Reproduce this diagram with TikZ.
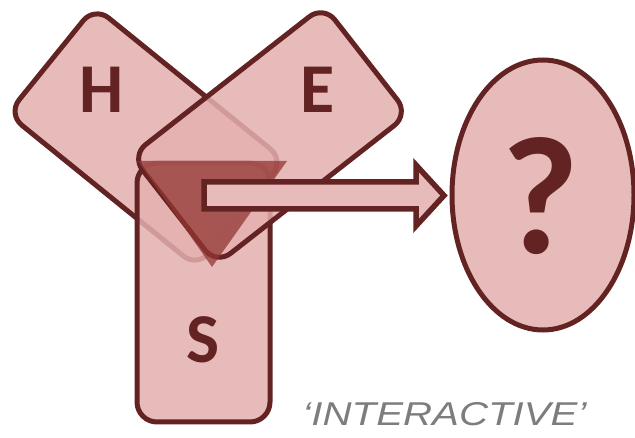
\documentclass[tikz,border=0pt]{standalone}
\usepackage{fontspec}
\setmainfont{Carlito}
\newfontfamily\tagfont{Liberation Sans}
\usetikzlibrary{shapes.geometric}

\begin{document}
\begin{tikzpicture}[x=1pt, y=-1pt,
		box/.style={draw=edgecolor, fill=boxcolor, fill opacity=0.85, line width=5pt, rounded corners=18pt,
			minimum width=244pt, minimum height=138pt, inner sep=0pt},
		letter/.style={text=edgecolor, inner sep=0pt, font=\fontsize{70}{70}\selectfont\bfseries}]
			\definecolor{edgecolor}{RGB}{100, 35, 35}
			\definecolor{boxcolor}{RGB}{228, 175, 175}
			\definecolor{solidcolor}{RGB}{232, 187, 187}
			\definecolor{tricolor}{RGB}{147, 55, 51}
			\definecolor{tagcolor}{RGB}{125, 125, 125}
			\useasboundingbox (0, 0) rectangle (635, 438);

			\node[box, rotate=-39] (H) at (146, 137) {};
			\node[box, minimum width=133pt, minimum height=259pt, rounded corners=20pt] (S) at (203.5, 292.5) {};
			\node[box, rotate=38] (E) at (270, 135) {};

			\fill[tricolor, fill opacity=0.75] (138, 161) -- (287, 161) -- (212, 267) -- cycle;

			\node[letter] (Hl) at (102, 90) {H};
			\node[letter] (El) at (318, 90) {E};
			\node[letter] (Sl) at (203, 340) {S};

			\node[ellipse, draw=edgecolor, fill=solidcolor, line width=5pt, inner sep=0pt,
				minimum width=182pt, minimum height=270pt] (Q) at (543, 195) {};
			\node[text=edgecolor, inner sep=0pt, font=\fontsize{168}{168}\selectfont\bfseries] (Ql) at (540, 196) {?};

			\coordinate (tail) at (204, 195.5);
			\coordinate (tip) at (444, 195.5);
			\draw[edgecolor, fill=solidcolor, line width=5.5pt]
				(tail) ++(0, -13.5) -- ++(212, 0) -- ++(0, -17) -- (tip) -- ++(-28, 30.5)
				-- ++(0, -17) -- ++(-212, 0) -- cycle;

			\node[text=tagcolor, inner sep=0pt, anchor=base, xscale=1.22, font=\tagfont\itshape\fontsize{33}{33}\selectfont] (tag) at (444.5, 425) {‘INTERACTIVE’};
		\end{tikzpicture}
\end{document}
